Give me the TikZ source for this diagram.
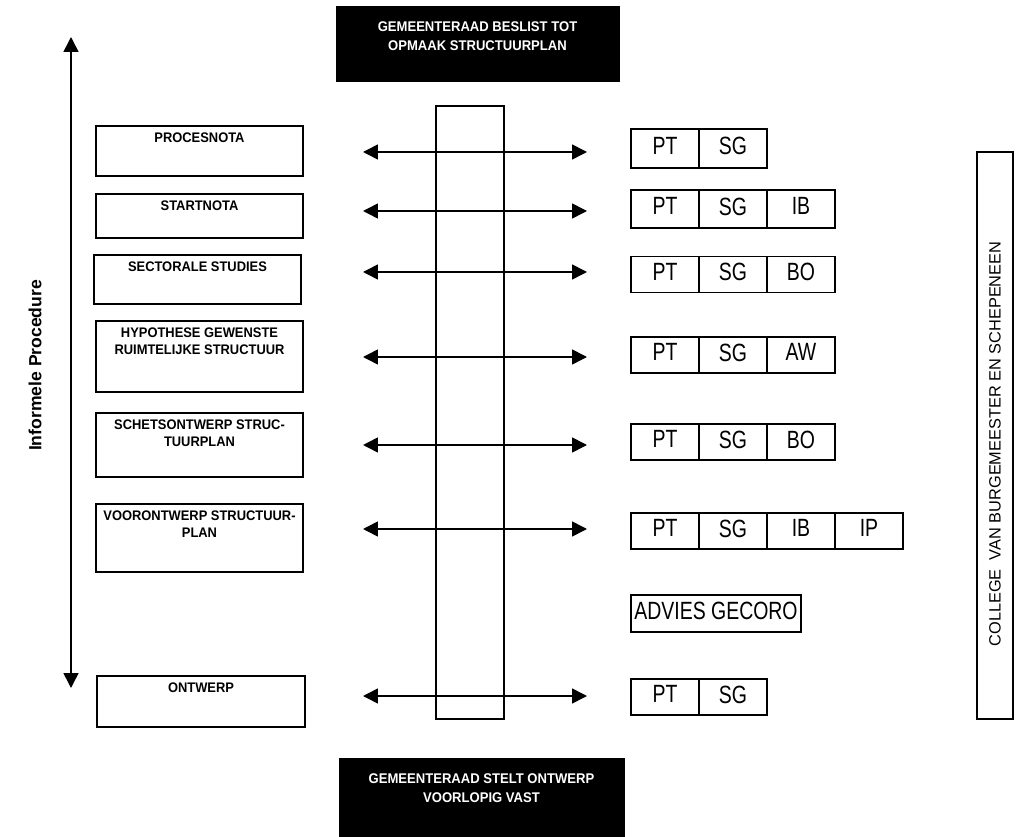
\documentclass[tikz,border=0pt]{standalone}
\usepackage{fontspec}
\setmainfont{Liberation Sans}
\newfontfamily\headfont{Liberation Sans}[FakeStretch=0.93]
\newfontfamily\cellfont{Liberation Sans}[FakeStretch=0.78]
\usetikzlibrary{positioning,arrows.meta}
\tikzset{
  stagebox/.style={draw, line width=1.1pt, minimum width=4.14cm, inner sep=0pt, outer sep=0pt},
  stagetext/.style={inner sep=0pt, align=center, font=\headfont\bfseries\fontsize{7.9}{10.2}\selectfont},
  councilbox/.style={fill=black, draw=black, inner sep=0pt, outer sep=0pt},
  counciltext/.style={inner sep=0pt, align=center, text=white, font=\headfont\bfseries\fontsize{8}{11.3}\selectfont},
  cell/.style={draw, line width=1.1pt, minimum width=1.36cm, minimum height=0.72cm, text depth=3pt, inner sep=0pt, outer sep=0pt, font=\cellfont\fontsize{14.2}{16}\selectfont},
}
\def\drawflow{\draw[line width=0.9pt, {Triangle[length=8.5pt,width=8.5pt]}-{Triangle[length=8.5pt,width=8.5pt]}]}

\begin{document}
\begin{tikzpicture}[x=0.02cm,y=-0.02cm]
\useasboundingbox (0,0) rectangle (1017,837);
% informal procedure axis
\coordinate (ptop) at (71,37);
\coordinate (pbottom) at (71,688);
\drawflow (ptop) -- (pbottom);
\node[rotate=90, font=\bfseries\fontsize{10}{12}\selectfont] (informeel) at (35,365.5) {Informele Procedure};
% council decisions
\node[councilbox, minimum width=5.66cm, minimum height=1.5cm] (besluit) at (477.5,43.5) {};
\node[counciltext, below=8.5pt of besluit.north] (besluit-t) {GEMEENTERAAD BESLIST TOT\\OPMAAK STRUCTUURPLAN};
\node[councilbox, minimum width=5.7cm, minimum height=1.58cm] (vaststelling) at (481.5,797.5) {};
\node[counciltext, below=8.5pt of vaststelling.north] (vaststelling-t) {GEMEENTERAAD STELT ONTWERP\\VOORLOPIG VAST};
\node[draw, line width=1.1pt, minimum width=1.36cm, minimum height=12.26cm, inner sep=0pt] (kolom) at (470,412.5) {};
% stages
\node[stagebox, minimum height=1cm] (procesnota) at (199.5,151) {};
\node[stagetext, below=3.4pt of procesnota.north] (procesnota-t) {PROCESNOTA};
\node[stagebox, minimum height=0.88cm] (startnota) at (199.5,216) {};
\node[stagetext, below=3.4pt of startnota.north] (startnota-t) {STARTNOTA};
\node[stagebox, minimum height=0.98cm] (studies) at (197.5,279.5) {};
\node[stagetext, below=3.4pt of studies.north] (studies-t) {SECTORALE STUDIES};
\node[stagebox, minimum height=1.42cm] (hypothese) at (199.5,356.5) {};
\node[stagetext, below=3.4pt of hypothese.north] (hypothese-t) {HYPOTHESE GEWENSTE\\RUIMTELIJKE STRUCTUUR};
\node[stagebox, minimum height=1.28cm] (schets) at (199.5,445) {};
\node[stagetext, below=3.4pt of schets.north] (schets-t) {SCHETSONTWERP STRUC-\\TUURPLAN};
\node[stagebox, minimum height=1.36cm] (voorontwerp) at (199.5,538) {};
\node[stagetext, below=3.4pt of voorontwerp.north] (voorontwerp-t) {VOORONTWERP STRUCTUUR-\\PLAN};
\node[stagebox, minimum width=4.16cm, minimum height=1.02cm] (ontwerp) at (201,701.5) {};
\node[stagetext, below=3.4pt of ontwerp.north] (ontwerp-t) {ONTWERP};
% arrows through the column
\coordinate (fl1) at (363,152); \coordinate (fr1) at (587,152);
\coordinate (fl2) at (363,211); \coordinate (fr2) at (587,211);
\coordinate (fl3) at (363,272); \coordinate (fr3) at (587,272);
\coordinate (fl4) at (363,357); \coordinate (fr4) at (587,357);
\coordinate (fl5) at (363,445); \coordinate (fr5) at (587,445);
\coordinate (fl6) at (363,529); \coordinate (fr6) at (587,529);
\coordinate (fl7) at (363,696); \coordinate (fr7) at (587,696);
\drawflow (fl1) -- (fr1);
\drawflow (fl2) -- (fr2);
\drawflow (fl3) -- (fr3);
\drawflow (fl4) -- (fr4);
\drawflow (fl5) -- (fr5);
\drawflow (fl6) -- (fr6);
\drawflow (fl7) -- (fr7);
% participants
\node[cell, minimum height=0.78cm] (pta) at (665,148.5) {PT};
\node[cell, minimum height=0.78cm, right=0pt of pta] (sga) {SG};
\node[cell, minimum height=0.76cm] (ptb) at (665,209) {PT};
\node[cell, minimum height=0.76cm, right=0pt of ptb] (sgb) {SG};
\node[cell, minimum height=0.76cm, right=0pt of sgb] (ibb) {IB};
\node[cell] (ptc) at (665,274.5) {PT};
\node[cell, right=0pt of ptc] (sgc) {SG};
\node[cell, right=0pt of sgc] (boc) {BO};
\node[cell] (ptd) at (665,355) {PT};
\node[cell, right=0pt of ptd] (sgd) {SG};
\node[cell, right=0pt of sgd] (awd) {AW};
\node[cell] (pte) at (665,442) {PT};
\node[cell, right=0pt of pte] (sge) {SG};
\node[cell, right=0pt of sge] (boe) {BO};
\node[cell] (ptf) at (665,531) {PT};
\node[cell, right=0pt of ptf] (sgf) {SG};
\node[cell, right=0pt of sgf] (ibf) {IB};
\node[cell, right=0pt of ibf] (ipf) {IP};
\node[cell, minimum width=3.4cm, minimum height=0.74cm] (gecoro) at (716,613.5) {ADVIES GECORO};
\node[cell] (ptg) at (665,697) {PT};
\node[cell, right=0pt of ptg] (sgg) {SG};
% college
\node[draw, line width=1.1pt, minimum width=0.72cm, minimum height=11.34cm, inner sep=0pt] (college) at (995,435.5) {};
\node[rotate=90, font=\fontsize{9.3}{11}\selectfont] (college-t) at (995,444) {COLLEGE\ \ VAN BURGEMEESTER EN SCHEPENEEN};
\end{tikzpicture}
\end{document}
